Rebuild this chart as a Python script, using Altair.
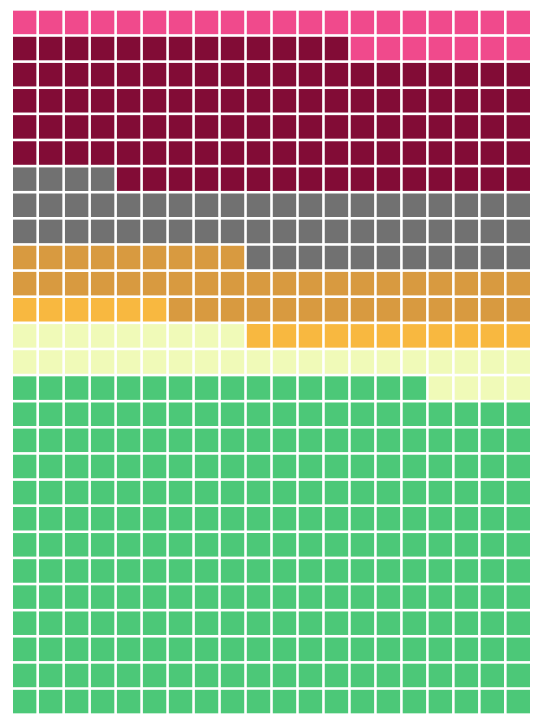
import altair as alt
import pandas as pd

categories = ["Green", "Yellow", "Light orange", "Dark orange", "Gray", "Maroon", "Pink"]
counts = [256, 33, 17, 43, 55, 109, 27]
colors = ["#4cc878", "#f0fab8", "#f8b840", "#d89a40", "#717171", "#820c36", "#f04a8c"]

n_cols = 20

records = []
k = 0
for cat, n in zip(categories, counts):
    for _ in range(n):
        records.append({"category": cat, "col": k % n_cols, "row": k // n_cols})
        k += 1
df = pd.DataFrame(records)

chart = (
    alt.Chart(df)
    .mark_rect()
    .encode(
        x=alt.X("col:O", axis=None, scale=alt.Scale(paddingInner=0.1, paddingOuter=0)),
        y=alt.Y("row:O", axis=None, sort="descending",
                scale=alt.Scale(paddingInner=0.1, paddingOuter=0)),
        color=alt.Color("category:N", scale=alt.Scale(domain=categories, range=colors), legend=None),
    )
    .properties(width=518, height=704, padding={"left": 5, "top": 2, "right": 2, "bottom": 0})
    .configure_view(stroke=None)
)

chart.save("out.html", embed_options={"renderer": "svg", "actions": False})
